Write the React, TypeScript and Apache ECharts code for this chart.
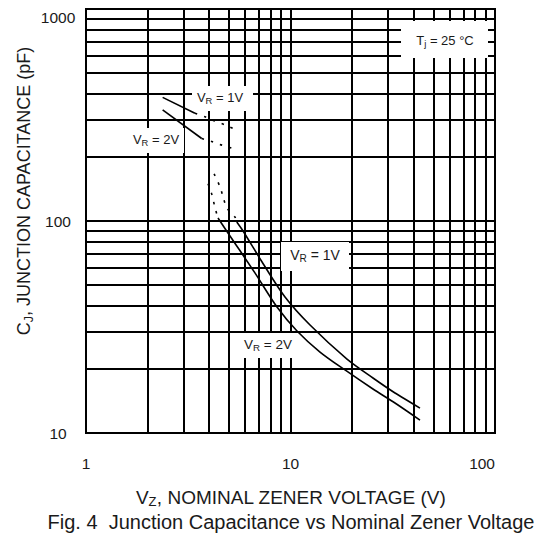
import React, { useEffect, useRef } from "react";
import * as echarts from "echarts";

// V_Z (V), C_J (pF)
const vr1SolidLeft: number[][] = [[2.37, 383], [3.41, 322]];
const vr1DashUpper: number[][] = [[3.41, 322], [3.82, 310], [4.27, 296], [4.78, 284], [5.29, 272]];
const vr2SolidLeft: number[][] = [[2.37, 334], [3.68, 245]];
const vr2DashUpper: number[][] = [[3.68, 245], [4.12, 237], [4.62, 228], [5.23, 220]];
const vr1DashLower: number[][] = [[4.23, 167], [4.52, 145], [4.68, 130], [4.89, 115], [5.35, 104.4], [5.46, 98.9]];
const vr2DashLower: number[][] = [[3.95, 150], [4.13, 133], [4.27, 116], [4.42, 103.3]];
const vr1Solid: number[][] = [
  [5.46, 98.9], [5.86, 89.7], [7.26, 64.1], [9.4, 43.8], [12.46, 32.3], [18.89, 22.3],
  [25.31, 18.17], [32.43, 15.44], [42.97, 13.1],
];
const vr2Solid: number[][] = [
  [4.42, 103.3], [5.06, 85.0], [6.7, 56.9], [8.59, 39.3], [10.76, 30.3], [13.94, 24.1],
  [18.47, 19.83], [25.31, 16.12], [32.43, 13.85], [42.97, 11.5],
];
const xMinor: number[] = [2, 3, 4, 5, 6, 7, 8, 9, 20, 30, 40, 50, 60, 70, 80, 90];
const yMinor: number[] = [20, 30, 40, 50, 60, 70, 80, 90, 200, 300, 400, 500, 600, 700, 800, 900];
const xTicks: number[] = [1, 10, 100];
const yTicks: number[] = [10, 100, 1000];

const FONT = "'Liberation Sans', Arial, sans-serif";
const INK = "#1a1a1a";

export default function App() {
  const ref = useRef<HTMLDivElement>(null);
  useEffect(() => {
    if (!ref.current) return;
    const chart = echarts.init(ref.current, null, { renderer: "svg" });
    const curve = (data: number[][], dashed: boolean) => ({
      type: "line",
      data,
      symbol: "none",
      smooth: 0.3,
      silent: true,
      z: 5,
      lineStyle: { color: "#000", width: 1.6, type: dashed ? [2.5, 7] : "solid" },
    });
    const lbl = (
      box: number[], tx: number, ty: number,
      main: string, sub: string, rest: string, fs: number,
    ) => [
      { type: "rect", shape: { x: box[0], y: box[1], width: box[2] - box[0], height: box[3] - box[1] }, style: { fill: "#fff" }, z: 50 },
      {
        type: "text",
        x: tx,
        y: ty,
        z: 51,
        style: {
          text: `{a|${main}}{s|${sub}}{a|${rest}}`,
          align: "center",
          verticalAlign: "middle",
          rich: {
            a: { fontSize: fs, fontFamily: FONT, fill: INK },
            s: { fontSize: fs * 0.72, fontFamily: FONT, fill: INK, padding: [fs * 0.55, 0, 0, 0] },
          },
        },
      },
    ];
    chart.setOption({
      animation: false,
      backgroundColor: "#fff",
      grid: { left: 86, right: 57, top: 9, bottom: 103, show: true, borderColor: "#000", borderWidth: 2 },
      xAxis: {
        type: "log",
        logBase: 10,
        min: xTicks[0],
        max: xTicks[xTicks.length - 1],
        axisLine: { show: false },
        axisTick: { show: false },
        axisLabel: {
          fontSize: 15.5, fontFamily: FONT, color: INK, margin: 22,
          alignMaxLabel: "right",
          formatter: (v: number) => String(v),
        },
        splitLine: { show: true, lineStyle: { color: "#000", width: 2 } },
      },
      yAxis: {
        type: "log",
        logBase: 10,
        min: yTicks[0],
        max: yTicks[yTicks.length - 1],
        axisLine: { show: false },
        axisTick: { show: false },
        axisLabel: {
          fontSize: 15.5, fontFamily: FONT, color: INK, margin: 28, align: "center",
          verticalAlignMaxLabel: "top",
          formatter: (v: number) => String(v),
        },
        splitLine: { show: true, lineStyle: { color: "#000", width: 2 } },
      },
      series: [
        {
          type: "line",
          data: [],
          silent: true,
          markLine: {
            silent: true,
            symbol: ["none", "none"],
            label: { show: false },
            lineStyle: { color: "#000", width: 2, type: "solid" },
            data: [...xMinor.map((v) => ({ xAxis: v })), ...yMinor.map((v) => ({ yAxis: v }))],
          },
        },
        curve(vr1SolidLeft, false),
        curve(vr1DashUpper, true),
        curve(vr2SolidLeft, false),
        curve(vr2DashUpper, true),
        curve(vr1DashLower, true),
        curve(vr2DashLower, true),
        curve(vr1Solid, false),
        curve(vr2Solid, false),
      ],
      graphic: [
        ...lbl([192, 86, 253, 111], 220, 97, "V", "R", " = 1V", 13),
        ...lbl([126, 128, 184, 153], 156, 139, "V", "R", " = 2V", 13),
        ...lbl([281, 242, 349, 271], 315, 255, "V", "R", " = 1V", 14),
        ...lbl([239, 333, 297, 358], 268, 344, "V", "R", " = 2V", 13.5),
        ...lbl([401, 21, 488, 58], 445, 40, "T", "j", " = 25 °C", 13),
        {
          type: "text",
          x: 291,
          y: 497,
          style: {
            text: "{a|V}{s|Z}{a|, NOMINAL ZENER VOLTAGE (V)}",
            align: "center",
            verticalAlign: "middle",
            rich: {
              a: { fontSize: 19, fontFamily: FONT, fill: INK },
              s: { fontSize: 13, fontFamily: FONT, fill: INK, padding: [9, 0, 0, 0] },
            },
          },
        },
        {
          type: "text",
          x: 291,
          y: 522,
          style: {
            text: "Fig. 4  Junction Capacitance vs Nominal Zener Voltage",
            align: "center",
            verticalAlign: "middle",
            fontSize: 20,
            fontFamily: FONT,
            fill: INK,
          },
        },
        {
          type: "text",
          x: 24,
          y: 191,
          rotation: Math.PI / 2,
          style: {
            text: "{a|C}{s|J}{a|, JUNCTION CAPACITANCE (pF)}",
            align: "center",
            verticalAlign: "middle",
            rich: {
              a: { fontSize: 18, fontFamily: FONT, fill: INK },
              s: { fontSize: 12.5, fontFamily: FONT, fill: INK, padding: [9, 0, 0, 0] },
            },
          },
        },
      ],
    });
    return () => chart.dispose();
  }, []);
  return <div ref={ref} style={{ position: "fixed", left: 0, top: 0, width: 552, height: 536 }} />;
}
